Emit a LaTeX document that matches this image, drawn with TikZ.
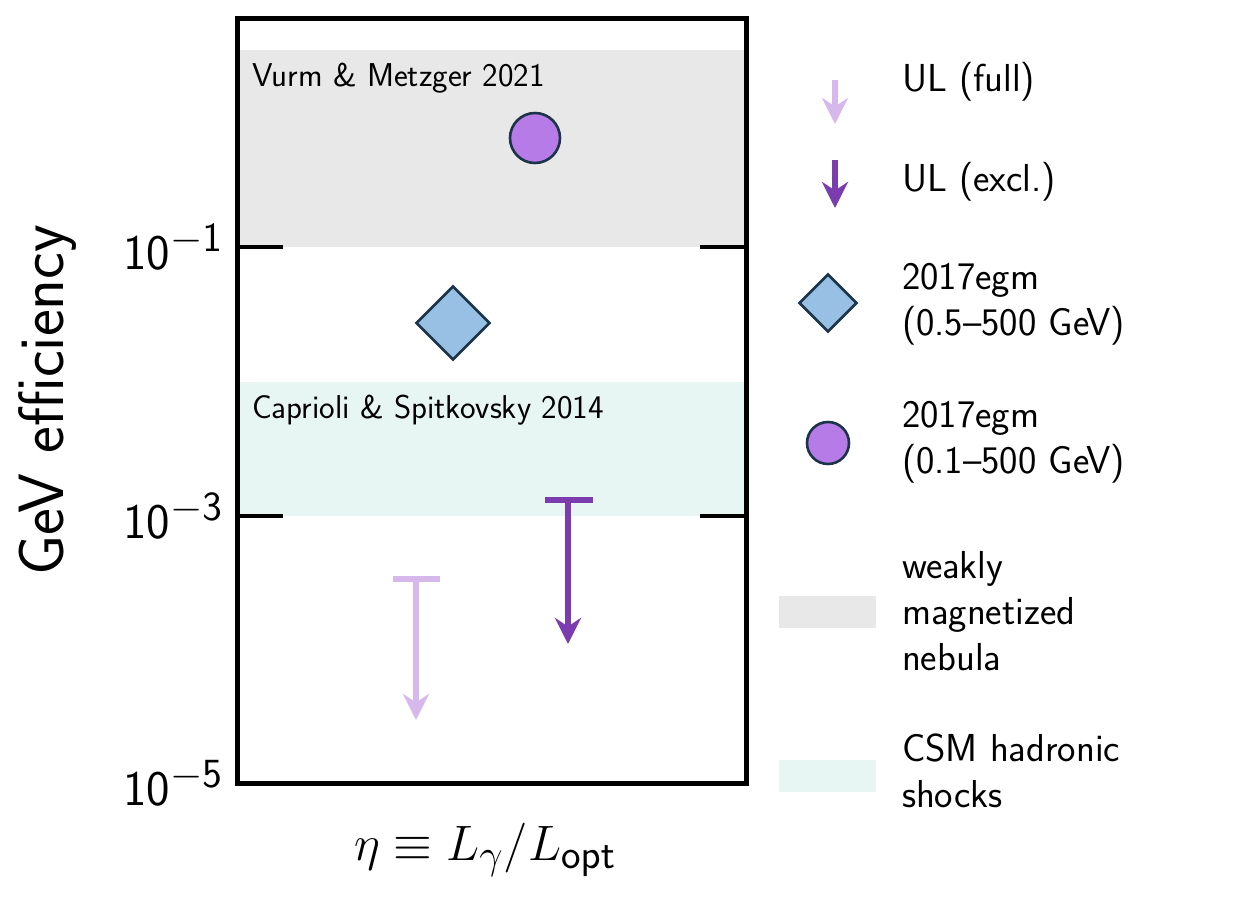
\documentclass[tikz,border=0pt]{standalone}
\usepackage{amsmath,amssymb}
\usepackage{tikz}
\usetikzlibrary{arrows.meta,calc,shapes.geometric}
\definecolor{bandgray}{HTML}{E8E8E8}
\definecolor{bandteal}{HTML}{E8F6F3}
\definecolor{ulfull}{HTML}{D6B8EC}
\definecolor{ulexcl}{HTML}{7B3CB0}
\definecolor{dotfill}{HTML}{B77BE8}
\definecolor{diafill}{HTML}{98BFE4}
\definecolor{edge}{HTML}{1C3449}
\tikzset{
  ticklab/.style={anchor=east,font=\sffamily\fontsize{30}{32}\selectfont},
  bandlab/.style={anchor=west,font=\sffamily\fontsize{16.5}{18}\selectfont},
  leglab/.style={anchor=west,font=\sffamily\fontsize{19.5}{23}\selectfont},
  ularrow/.style={line width=3pt,-{Stealth[length=13pt,width=13pt]}},
  mark dia/.style={diamond,draw=edge,line width=1.3pt,fill=diafill,inner sep=0,aspect=1}
}
\begin{document}
\begin{tikzpicture}[x=0.5pt,y=-0.5pt]
        \useasboundingbox (0,0) rectangle (1260,901);
        % bands
        \fill[bandgray] (237,50) rectangle (746,247);
        \fill[bandteal] (237,382) rectangle (746,516);
        \node[bandlab] (vm) at (245,78) {Vurm \& Metzger 2021};
        \node[bandlab] (cs) at (245,410) {Caprioli \& Spitkovsky 2014};
        % ticks
        \foreach \y in {247,516} {
          \draw[line width=2pt] (237,\y) -- (283,\y);
          \draw[line width=2pt] (700,\y) -- (746,\y);
        }
        \node[ticklab] (t1) at (230,247) {$\mathsf{10}^{\mathsf{-1}}$};
        \node[ticklab] (t3) at (230,516) {$\mathsf{10}^{\mathsf{-3}}$};
        \node[ticklab] (t5) at (230,783) {$\mathsf{10}^{\mathsf{-5}}$};
        \draw[line width=2.5pt] (237,18) rectangle (746,783);
        % data
        \node[circle,draw=edge,line width=1.3pt,fill=dotfill,minimum size=25pt,inner sep=0] (dot) at (535,138) {};
        \node[mark dia,minimum size=37pt] (dia) at (453,323) {};
        \draw[ulfull,line width=3pt] (393,579) -- (440,579);
        \draw[ulfull,ularrow] (416,579) -- (416,720);
        \draw[ulexcl,line width=3pt] (545,500) -- (593,500);
        \draw[ulexcl,ularrow] (568,500) -- (568,644);
        % legend
        \draw[ulfull,ularrow] (835,80) -- (835,124);
        \draw[ulexcl,ularrow] (835,160) -- (835,208);
        \node[mark dia,minimum size=29pt] (legdia) at (828,303) {};
        \node[circle,draw=edge,line width=1.3pt,fill=dotfill,minimum size=21pt,inner sep=0] (legdot) at (828,443) {};
        \fill[bandgray] (779,596) rectangle (876,628);
        \fill[bandteal] (779,760) rectangle (876,792);
        \node[leglab] (l1) at (895,82) {UL (full)};
        \node[leglab] (l2) at (895,182) {UL (excl.)};
        \node[leglab,align=left] (l3) at (895,304) {2017egm\\(0.5--500 GeV)};
        \node[leglab,align=left] (l4) at (895,442) {2017egm\\(0.1--500 GeV)};
        \node[leglab,align=left] (l5) at (895,611) {weakly\\magnetized\\nebula};
        \node[leglab,align=left] (l6) at (895,771) {CSM hadronic\\shocks};
        % axis labels
        \node[rotate=90,font=\sffamily\fontsize{32}{34}\selectfont] (ylab) at (48,400) {GeV efficiency};
        \node[font=\fontsize{29}{31}\selectfont] (xlab) at (485,850) {$\eta\equiv L_\gamma/L_{\mathsf{opt}}$};
\end{tikzpicture}
\end{document}
